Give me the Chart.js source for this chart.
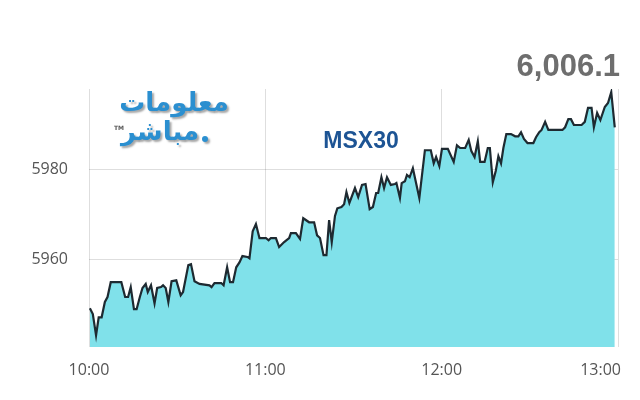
<!DOCTYPE html>
<html>
<head>
<meta charset="utf-8">
<script src="https://cdn.jsdelivr.net/npm/chart.js@4"></script>
<style>
  html, body { margin: 0; background: #fff; }
  #wrap { width: 640px; height: 400px; }
</style>
</head>
<body>
<div id="wrap"><canvas id="chart"></canvas></div>
<script>
// minutes after 10:00
const minutes = [0.3,1.3,2.4,3.3,4.3,5.4,6.3,7.4,11.0,12.3,
  13.3,14.2,15.3,16.2,17.3,18.2,19.3,20.0,21.1,22.3,
  23.2,24.5,25.2,26.1,27.0,28.1,29.7,31.2,32.0,33.8,
  34.7,35.9,37.6,41.0,41.7,42.7,45.0,45.8,47.0,48.0,
  49.0,50.1,51.2,52.2,53.9,54.6,55.7,56.8,58.0,60.2,
  61.1,61.9,63.6,64.7,66.4,68.1,68.7,70.4,71.8,72.9,
  74.9,76.6,77.6,78.6,79.8,80.8,81.7,82.6,83.7,84.5,
  85.9,86.8,87.6,88.6,90.5,91.6,92.9,94.1,95.5,96.6,
  97.7,98.4,99.5,100.4,101.4,102.7,104.1,104.6,105.8,106.4,
  107.5,108.2,109.1,110.2,112.4,114.3,116.3,117.3,118.1,119.2,
  120.1,122.1,124.1,125.2,126.3,128.0,129.2,130.1,131.2,132.3,
  133.1,134.6,135.7,136.4,137.4,138.4,139.3,140.2,141.0,142.0,
  143.6,145.0,146.1,147.0,148.0,149.2,151.2,152.1,153.2,154.0,
  155.2,156.3,161.1,162.0,163.1,164.0,165.0,167.6,168.7,169.8,
  171.0,171.8,172.9,174.0,175.5,176.6,177.7,178.9];

const prices = [5949.2,5947.9,5943.2,5947.2,5947.2,5950.6,5951.7,5955.0,5955.0,5951.7,
  5951.7,5953.9,5949.0,5949.0,5951.7,5953.7,5954.6,5952.8,5954.3,5950.3,
  5953.7,5953.9,5954.3,5953.7,5950.6,5955.2,5955.4,5952.1,5952.8,5958.8,
  5959.0,5955.2,5954.6,5954.3,5953.9,5954.8,5954.8,5954.3,5958.3,5955.0,
  5955.0,5958.3,5959.4,5960.8,5960.6,5960.3,5966.3,5967.9,5964.8,5964.8,
  5964.3,5964.8,5964.8,5962.8,5963.9,5964.8,5965.9,5965.9,5964.6,5969.2,
  5968.3,5968.3,5965.4,5964.8,5961.0,5961.0,5968.8,5963.9,5969.7,5971.4,
  5971.7,5972.3,5975.0,5972.6,5975.9,5973.9,5976.6,5976.8,5971.2,5971.7,
  5974.8,5974.8,5978.3,5975.9,5978.3,5976.6,5976.8,5977.0,5973.7,5977.0,
  5977.4,5978.8,5978.3,5980.3,5973.7,5984.3,5984.3,5981.4,5982.8,5980.8,
  5984.6,5984.6,5981.7,5985.4,5984.8,5984.8,5986.6,5984.1,5982.8,5986.3,
  5981.7,5981.7,5984.8,5984.8,5977.2,5979.7,5983.0,5981.4,5984.8,5987.9,
  5987.9,5987.4,5987.4,5988.3,5986.8,5985.9,5985.9,5987.2,5988.3,5988.8,
  5990.6,5988.8,5988.8,5989.4,5991.2,5991.2,5989.9,5989.9,5990.6,5993.7,
  5993.7,5989.4,5992.6,5991.0,5993.9,5994.8,5997.2,5989.4];

const hourLabels = ['10:00', '11:00', '12:00', '13:00'];
const yTicks = [5960, 5980];
const indexName = 'MSX30';
const lastValue = '6,006.1';

const points = minutes.map((m, i) => ({ x: m, y: prices[i] }));

// texts around the plot: hour labels, title, last value and the logo
const overlay = {
  id: 'overlay',
  afterDraw(chart) {
    const ctx = chart.ctx;
    const xs = chart.scales.x;
    ctx.save();

    ctx.font = '16px "Open Sans"';
    ctx.fillStyle = '#555';
    ctx.textAlign = 'center';
    ctx.textBaseline = 'middle';
    hourLabels.forEach((lab, i) => {
      let x = xs.getPixelForValue(i * 60);
      const w = ctx.measureText(lab).width;
      if (x + w / 2 > chart.width - 19) x = chart.width - 19 - w / 2;
      ctx.fillText(lab, x, 370);
    });

    ctx.font = 'bold 23px "Liberation Sans", Arial, sans-serif';
    ctx.fillStyle = '#1d5494';
    ctx.fillText(indexName, 361, 142);

    ctx.font = 'bold 31px "Liberation Sans", Arial, sans-serif';
    ctx.fillStyle = '#6e6e6e';
    ctx.textAlign = 'right';
    ctx.textBaseline = 'alphabetic';
    ctx.fillText(lastValue, 620, 76);

    // logo
    ctx.shadowColor = 'rgba(0,0,0,0.35)';
    ctx.shadowOffsetX = 2;
    ctx.shadowOffsetY = 2;
    ctx.shadowBlur = 2;
    ctx.fillStyle = '#2b8fd0';
    ctx.textAlign = 'center';
    ctx.textBaseline = 'middle';
    ctx.font = 'bold 26px "DejaVu Sans"';
    ctx.fillText('معلومات', 174, 104);
    ctx.fillText('مباشر', 160, 133);
    ctx.beginPath();
    ctx.arc(205, 139, 3, 0, Math.PI * 2);
    ctx.fill();
    ctx.shadowColor = 'transparent';
    ctx.fillStyle = '#555';
    ctx.font = 'bold 6px "DejaVu Sans"';
    ctx.fillText('TM', 119, 128);

    ctx.restore();
  }
};

new Chart(document.getElementById('chart'), {
  type: 'line',
  data: {
    datasets: [{
      data: points,
      borderColor: '#1e2a31',
      borderWidth: 2.2,
      backgroundColor: '#80e1ea',
      fill: 'start',
      pointRadius: 0,
      tension: 0
    }]
  },
  options: {
    responsive: true,
    maintainAspectRatio: false,
    animation: false,
    layout: { padding: { top: 89, right: 22, bottom: 53, left: 0 } },
    plugins: { legend: { display: false }, tooltip: { enabled: false } },
    scales: {
      x: {
        type: 'linear',
        min: 0,
        max: 180,
        z: 1,
        afterBuildTicks: s => { s.ticks = hourLabels.map((l, i) => ({ value: i * 60 })); },
        ticks: { display: false },
        grid: { color: 'rgba(0,0,0,0.13)', drawTicks: false },
        border: { display: false }
      },
      y: {
        min: 5940.6,
        max: 5997.9,
        z: 1,
        afterBuildTicks: s => { s.ticks = yTicks.map(v => ({ value: v })); },
        afterFit: s => { s.width = 89; },
        ticks: {
          color: '#555',
          font: { family: 'Open Sans', size: 16 },
          padding: 21,
          callback: v => String(v)
        },
        grid: { color: 'rgba(0,0,0,0.13)', drawTicks: false },
        border: { display: false }
      }
    }
  },
  plugins: [overlay]
});
</script>
</body>
</html>
